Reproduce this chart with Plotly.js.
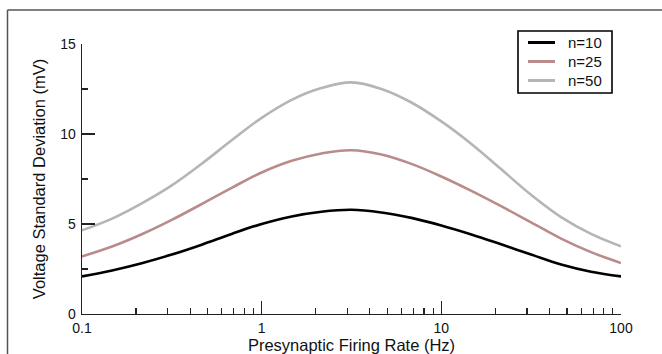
<!DOCTYPE html>
<html>
<head>
<meta charset="utf-8">
<script src="https://cdn.plot.ly/plotly-3.0.1.min.js"></script>
<style>html,body{margin:0;padding:0;background:#fff;}#chart{width:662px;height:354px;}</style>
</head>
<body>
<div id="chart"></div>
<script>
// Presynaptic firing rate (Hz)
const rate = [0.1, 0.147, 0.215, 0.316, 0.464, 0.681, 1, 1.47, 2.15, 3.16, 4.64, 6.81, 10, 14.7, 21.5, 31.6, 46.4, 68.1, 100];
// Voltage standard deviation (mV)
const n10 = [2.09, 2.42, 2.82, 3.30, 3.85, 4.45, 5.00, 5.42, 5.68, 5.79, 5.64, 5.34, 4.92, 4.42, 3.87, 3.30, 2.75, 2.35, 2.09];
const n25 = [3.20, 3.75, 4.43, 5.23, 6.11, 7.01, 7.86, 8.51, 8.92, 9.10, 8.86, 8.34, 7.64, 6.84, 5.99, 5.09, 4.19, 3.44, 2.83];
const n50 = [4.65, 5.30, 6.15, 7.15, 8.35, 9.65, 10.90, 11.90, 12.55, 12.87, 12.50, 11.75, 10.70, 9.45, 8.05, 6.62, 5.38, 4.45, 3.76];
const seriesNames = ['n=10', 'n=25', 'n=50'];
const xTickVals = [0.1, 1, 10, 100];
const xTickText = ['0.1', '1', '10', '100'];
const xMinorVals = [0.2,0.3,0.4,0.5,0.6,0.7,0.8,0.9,2,3,4,5,6,7,8,9,20,30,40,50,60,70,80,90];
const yTickVals = [0, 5, 10, 15];
const yMinorVals = [2.5, 7.5, 12.5];

const colors = ['#000000', '#b98b8b', '#b5b5b5'];
const series = [n10, n25, n50];
const traces = series.map((s, i) => ({
  x: rate, y: s, type: 'scatter', mode: 'lines', name: seriesNames[i],
  line: {color: colors[i], width: 2.6, shape: 'spline', smoothing: 1.1}
}));

// figure geometry (pixels)
const W = 662, H = 354, L = 82, R = 41, T = 44, B = 40;
const pw = W - L - R, ph = H - T - B;
const px = p => (p - L) / pw;        // pixel x -> paper x
const py = p => (H - B - p) / ph;    // pixel y -> paper y

const font = 'Liberation Sans, Arial, sans-serif';

// manual legend (compact spacing as in the reference)
const legRows = [42.5, 61.5, 80.5];
const shapes = [
  {type: 'line', xref: 'paper', yref: 'paper', x0: px(7.5), x1: px(664), y0: py(10), y1: py(10), line: {color: '#555', width: 1.5}},
  {type: 'line', xref: 'paper', yref: 'paper', x0: px(7.5), x1: px(7.5), y0: py(10), y1: py(360), line: {color: '#555', width: 1.5}},
  {type: 'rect', xref: 'paper', yref: 'paper', x0: px(518), x1: px(612), y0: py(93), y1: py(31), line: {color: '#000', width: 1.6}, fillcolor: 'rgba(0,0,0,0)'}
];
const annotations = [];
seriesNames.forEach((nm, i) => {
  shapes.push({type: 'line', xref: 'paper', yref: 'paper', x0: px(528), x1: px(555), y0: py(legRows[i]), y1: py(legRows[i]), line: {color: colors[i], width: 3}});
  annotations.push({xref: 'paper', yref: 'paper', x: px(566), y: py(legRows[i]), xanchor: 'left', yanchor: 'middle', text: nm, showarrow: false, font: {family: font, size: 15, color: '#111'}});
});

const layout = {
  width: W, height: H,
  margin: {l: L, r: R, t: T, b: B},
  paper_bgcolor: '#fff', plot_bgcolor: '#fff',
  font: {family: font, size: 14, color: '#111'},
  showlegend: false,
  xaxis: {
    type: 'log', range: [-1, 2],
    showgrid: false, zeroline: false,
    showline: true, linecolor: '#222', linewidth: 1.3,
    ticks: 'inside', ticklen: 13, tickwidth: 1.2, tickcolor: '#222',
    tickmode: 'array', tickvals: xTickVals, ticktext: xTickText,
    tickfont: {family: font, size: 14, color: '#111'},
    ticklabelstandoff: 1,
    minor: {tickmode: 'array', tickvals: xMinorVals, ticks: 'inside', ticklen: 6, tickwidth: 1.2, tickcolor: '#222', showgrid: false},
    title: {text: 'Presynaptic Firing Rate (Hz)', font: {family: font, size: 16.5, color: '#111'}, standoff: 3}
  },
  yaxis: {
    range: [0, 15],
    showgrid: false, zeroline: false,
    showline: true, linecolor: '#222', linewidth: 1.3,
    ticks: 'inside', ticklen: 13, tickwidth: 1.2, tickcolor: '#222',
    tickmode: 'array', tickvals: yTickVals,
    tickfont: {family: font, size: 14, color: '#111'},
    ticklabelstandoff: 2,
    minor: {tickmode: 'array', tickvals: yMinorVals, ticks: 'inside', ticklen: 6, tickwidth: 1.2, tickcolor: '#222', showgrid: false},
    title: {text: 'Voltage Standard Deviation (mV)', font: {family: font, size: 16.5, color: '#111'}, standoff: 10}
  },
  shapes: shapes,
  annotations: annotations
};

Plotly.newPlot('chart', traces, layout, {displayModeBar: false, staticPlot: true});
</script>
</body>
</html>
